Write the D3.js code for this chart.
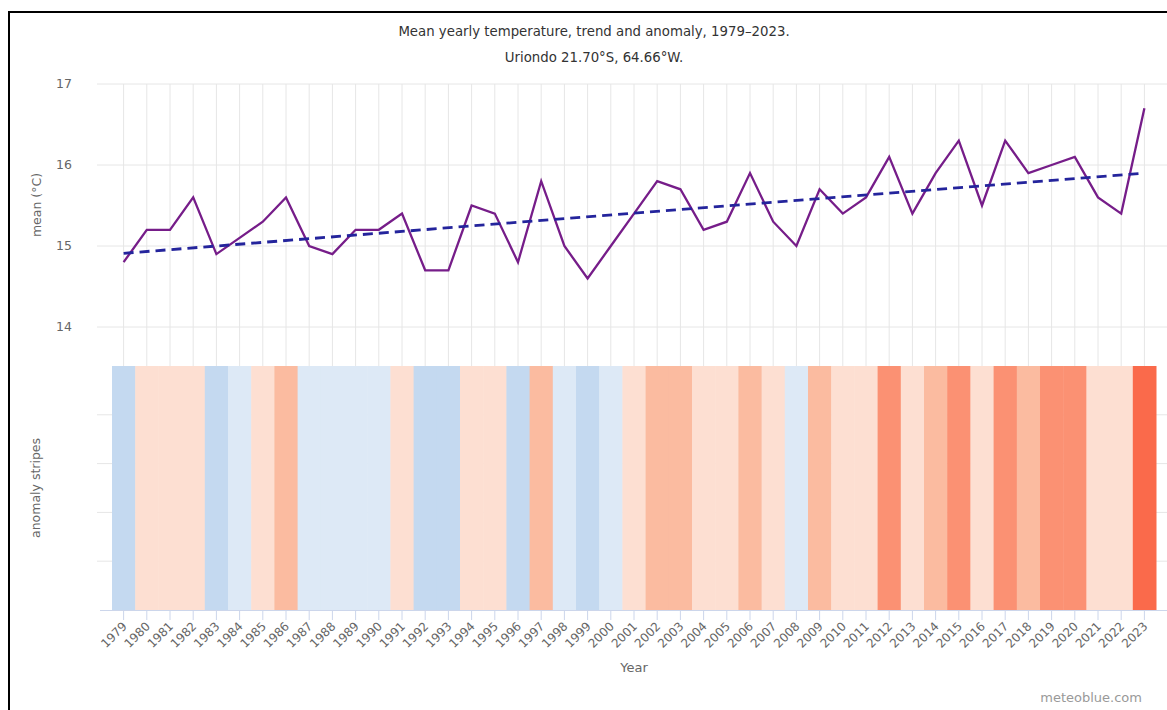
<!DOCTYPE html>
<html>
<head>
<meta charset="utf-8">
<script src="https://cdn.jsdelivr.net/npm/d3@7"></script>
<style>
  body { margin: 0; background: #fff; }
  svg text { font-family: "DejaVu Sans", sans-serif; }
</style>
</head>
<body>
<svg id="chart" width="1167" height="710"></svg>
<script>
// yearly values
const years = ["1979","1980","1981","1982","1983","1984","1985","1986","1987","1988",
  "1989","1990","1991","1992","1993","1994","1995","1996","1997","1998",
  "1999","2000","2001","2002","2003","2004","2005","2006","2007","2008",
  "2009","2010","2011","2012","2013","2014","2015","2016","2017","2018",
  "2019","2020","2021","2022","2023"];
const meanTemp = [14.8,15.2,15.2,15.6,14.9,15.1,15.3,15.6,15.0,14.9,
  15.2,15.2,15.4,14.7,14.7,15.5,15.4,14.8,15.8,15.0,
  14.6,15.0,15.4,15.8,15.7,15.2,15.3,15.9,15.3,15.0,
  15.7,15.4,15.6,16.1,15.4,15.9,16.3,15.5,16.3,15.9,
  16.0,16.1,15.6,15.4,16.7];
// anomaly used for the stripe colour (estimated from the stripe shades)
const anomaly = [-0.6,0.1,0.1,0.2,-0.5,-0.3,0.0,0.4,-0.3,-0.4,
  -0.2,-0.2,0.0,-0.7,-0.7,0.1,0.0,-0.6,0.4,-0.4,
  -0.8,-0.4,0.0,0.4,0.3,-0.1,0.0,0.5,-0.1,-0.4,
  0.3,0.0,0.2,0.7,0.0,0.5,0.8,0.1,0.8,0.5,
  0.6,0.7,0.2,0.0,1.3];
const trendYears = ["1979","2023"];
const trendValues = [14.91,15.9];
const yTicks = [14,15,16,17];
const anomalyBreaks = [-0.45,-0.15,0.25,0.55,0.9];
const anomalyColors = ["#c4d9f0","#dde9f6","#fddfd2","#fbbba0","#fb9173","#fa6a4b"];

const svg = d3.select('#chart');
const data = years.map((y, i) => ({year: y, value: meanTemp[i], anomaly: anomaly[i]}));

const x = d3.scaleBand().domain(years).range([112, 1156]).padding(0);
const xc = d => x(d) + x.bandwidth() / 2;
const y = d3.scaleLinear().domain([14, 17]).range([327, 84]);
const yStripe = d3.scaleLinear().domain([0, 5]).range([610, 366]);
const color = d3.scaleThreshold().domain(anomalyBreaks).range(anomalyColors);

// frame
svg.append('path').attr('d', 'M9,712V12H1170').attr('fill', 'none')
  .attr('stroke', '#000').attr('stroke-width', 2);

// titles
svg.append('text').attr('x', 594).attr('y', 36).attr('text-anchor', 'middle')
  .attr('font-size', 13.3).attr('fill', '#333')
  .text('Mean yearly temperature, trend and anomaly, 1979\u20132023.');
svg.append('text').attr('x', 594).attr('y', 62).attr('text-anchor', 'middle')
  .attr('font-size', 13.3).attr('fill', '#333')
  .text('Uriondo 21.70\u00b0S, 64.66\u00b0W.');

// upper panel grid
const grid = svg.append('g');
grid.selectAll('line.h').data(yTicks).enter().append('line')
  .attr('x1', 97).attr('x2', 1167)
  .attr('y1', d => y(d)).attr('y2', d => y(d))
  .attr('stroke', '#e6e6e6');
grid.selectAll('line.v').data(years).enter().append('line')
  .attr('x1', d => xc(d)).attr('x2', d => xc(d))
  .attr('y1', y(17)).attr('y2', yStripe(5))
  .attr('stroke', '#e6e6e6');
grid.selectAll('line.s').data([1, 2, 3, 4]).enter().append('line')
  .attr('x1', 97).attr('x2', 1167)
  .attr('y1', d => yStripe(d)).attr('y2', d => yStripe(d))
  .attr('stroke', '#e6e6e6');

// y labels
svg.append('g').selectAll('text').data(yTicks).enter().append('text')
  .attr('x', 72).attr('y', d => y(d) + 4).attr('text-anchor', 'end')
  .attr('font-size', 12.5).attr('fill', '#666').text(d => d);

// axis titles
svg.append('text').attr('transform', 'translate(41,205) rotate(-90)')
  .attr('text-anchor', 'middle').attr('font-size', 12.5).attr('fill', '#666')
  .text('mean (\u00b0C)');
svg.append('text').attr('transform', 'translate(40,488) rotate(-90)')
  .attr('text-anchor', 'middle').attr('font-size', 12.5).attr('fill', '#666')
  .text('anomaly stripes');

// stripes
svg.append('g').selectAll('rect').data(data).enter().append('rect')
  .attr('x', d => x(d.year)).attr('width', x.bandwidth() + 0.5)
  .attr('y', yStripe(5)).attr('height', yStripe(0) - yStripe(5))
  .attr('fill', d => color(d.anomaly));

// x axis
const xAxis = svg.append('g');
xAxis.append('line').attr('x1', 100).attr('x2', 1167)
  .attr('y1', 610.5).attr('y2', 610.5).attr('stroke', '#ccd6eb');
xAxis.selectAll('line.t').data(years).enter().append('line')
  .attr('x1', d => xc(d)).attr('x2', d => xc(d))
  .attr('y1', 610).attr('y2', 620).attr('stroke', '#ccd6eb');
xAxis.selectAll('text').data(years).enter().append('text')
  .attr('transform', d => `translate(${xc(d) + 4},627) rotate(-45)`)
  .attr('text-anchor', 'end').attr('font-size', 12).attr('fill', '#666')
  .text(d => d);
svg.append('text').attr('x', 634).attr('y', 672).attr('text-anchor', 'middle')
  .attr('font-size', 13).attr('fill', '#666').text('Year');

// mean line
const line = d3.line().x(d => xc(d.year)).y(d => y(d.value));
svg.append('path').datum(data).attr('d', line)
  .attr('fill', 'none').attr('stroke', '#761d89').attr('stroke-width', 2.3)
  .attr('stroke-linejoin', 'miter');

// trend line
const trend = trendYears.map((t, i) => ({year: t, value: trendValues[i]}));
svg.append('path').datum(trend).attr('d', line)
  .attr('fill', 'none').attr('stroke', '#24249c').attr('stroke-width', 2.8)
  .attr('stroke-dasharray', '10,6');

// credits
svg.append('text').attr('x', 1142).attr('y', 702).attr('text-anchor', 'end')
  .attr('font-size', 13).attr('fill', '#999').text('meteoblue.com');
</script>
</body>
</html>
